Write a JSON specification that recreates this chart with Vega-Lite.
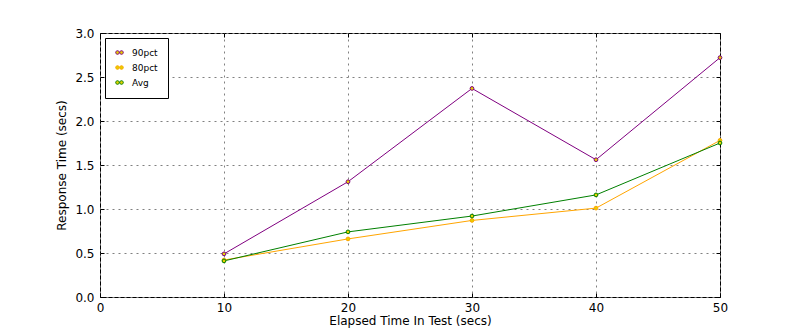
{
  "$schema": "https://vega.github.io/schema/vega-lite/v6.json",
  "width": 620,
  "height": 264,
  "autosize": "none",
  "padding": {"left": 100, "top": 33, "right": 80, "bottom": 33},
  "background": "white",
  "config": {
    "font": "DejaVu Sans",
    "view": {"stroke": "black", "strokeWidth": 1},
    "axis": {
      "domain": false,
      "tickColor": "black",
      "tickSize": -4,
      "tickWidth": 1,
      "labelFlush": false,
      "labelFontSize": 12,
      "labelColor": "black",
      "titleFontSize": 12,
      "titleFontWeight": "normal",
      "titleColor": "black",
      "gridColor": "#808080",
      "gridDash": [2, 4],
      "gridWidth": 1,
      "labelFont": "DejaVu Sans",
      "titleFont": "DejaVu Sans"
    },
    "legend": {
      "orient": "none",
      "legendX": 5,
      "legendY": 5,
      "padding": 10,
      "strokeColor": "black",
      "fillColor": "white",
      "labelFontSize": 9,
      "labelFont": "DejaVu Sans",
      "labelColor": "black",
      "labelOffset": 8,
      "rowPadding": 5,
      "symbolSize": 64,
      "symbolStrokeWidth": 1,
      "symbolFillColor": "#e6d000"
    }
  },
  "data": {
    "values": [
      {"t": 10, "v": 0.49, "series": "90pct"},
      {"t": 20, "v": 1.31, "series": "90pct"},
      {"t": 30, "v": 2.37, "series": "90pct"},
      {"t": 40, "v": 1.56, "series": "90pct"},
      {"t": 50, "v": 2.72, "series": "90pct"},
      {"t": 10, "v": 0.42, "series": "80pct"},
      {"t": 20, "v": 0.66, "series": "80pct"},
      {"t": 30, "v": 0.87, "series": "80pct"},
      {"t": 40, "v": 1.01, "series": "80pct"},
      {"t": 50, "v": 1.78, "series": "80pct"},
      {"t": 10, "v": 0.41, "series": "Avg"},
      {"t": 20, "v": 0.74, "series": "Avg"},
      {"t": 30, "v": 0.92, "series": "Avg"},
      {"t": 40, "v": 1.16, "series": "Avg"},
      {"t": 50, "v": 1.75, "series": "Avg"}
    ]
  },
  "layer": [
    {
      "mark": {"type": "line", "strokeWidth": 1},
      "encoding": {
        "x": {"field": "t", "type": "quantitative", "scale": {"domain": [0, 50], "nice": false},
              "axis": {"orient": "bottom", "values": [0, 10, 20, 30, 40, 50], "title": "Elapsed Time In Test (secs)", "labelPadding": 9, "titlePadding": 2}},
        "y": {"field": "v", "type": "quantitative", "scale": {"domain": [0, 3], "nice": false},
              "axis": {"orient": "left", "values": [0, 0.5, 1, 1.5, 2, 2.5, 3], "format": ".1f", "title": "Response Time (secs)", "labelPadding": 10, "titlePadding": 6}},
        "stroke": {"field": "series", "type": "nominal", "scale": {"domain": ["90pct", "80pct", "Avg"], "range": ["#800080", "#ffa500", "#008000"]}}
      }
    },
    {
      "mark": {"type": "point", "filled": true, "fill": "#e6d000", "size": 14, "strokeWidth": 1, "opacity": 1},
      "encoding": {
        "x": {"field": "t", "type": "quantitative", "axis": {"orient": "top", "values": [0, 10, 20, 30, 40, 50], "labels": false, "grid": false, "title": null}},
        "y": {"field": "v", "type": "quantitative", "axis": {"orient": "right", "values": [0, 0.5, 1, 1.5, 2, 2.5, 3], "labels": false, "grid": false, "title": null}},
        "stroke": {"field": "series", "type": "nominal", "scale": {"domain": ["90pct", "80pct", "Avg"], "range": ["#800080", "#ffa500", "#008000"]},
          "legend": {
            "title": null,
            "symbolType": "M-0.95,0A0.45,0.45,0,1,1,-0.05,0A0.45,0.45,0,1,1,-0.95,0ZM0.05,0A0.45,0.45,0,1,1,0.95,0A0.45,0.45,0,1,1,0.05,0Z"
          }
        }
      }
    }
  ],
  "resolve": {"axis": {"x": "independent", "y": "independent"}}
}
